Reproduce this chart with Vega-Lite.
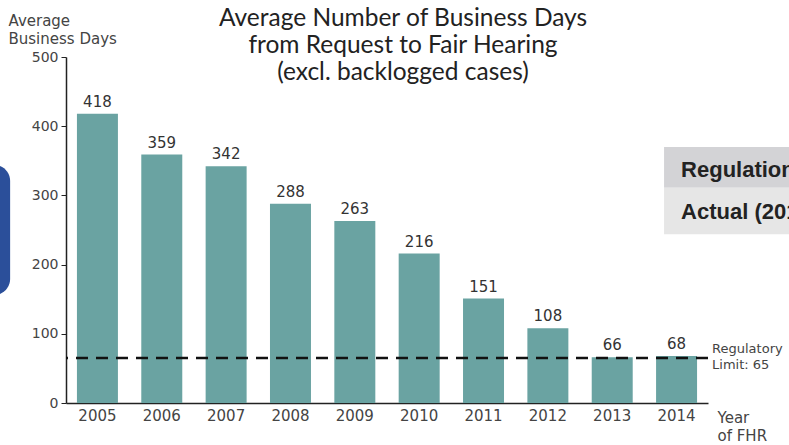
{
  "$schema": "https://vega.github.io/schema/vega-lite/v6.json",
  "autosize": "none",
  "width": 642,
  "height": 346,
  "padding": {"left": 66, "top": 57, "right": 81, "bottom": 42},
  "background": "white",
  "config": {"view": {"stroke": null}, "font": "DejaVu Sans"},
  "title": {
    "text": ["Average Number of Business Days", "from Request to Fair Hearing", "(excl. backlogged cases)"],
    "font": "Lato",
    "fontSize": 24.5,
    "fontWeight": "normal",
    "color": "#222",
    "lineHeight": 27,
    "anchor": "middle",
    "frame": "group",
    "dx": 16,
    "dy": 72,
    "baseline": "top",
    "offset": 0
  },
  "resolve": {"scale": {"y": "independent"}},
  "data": {
    "values": [
      {"year": "2005", "days": 418},
      {"year": "2006", "days": 359},
      {"year": "2007", "days": 342},
      {"year": "2008", "days": 288},
      {"year": "2009", "days": 263},
      {"year": "2010", "days": 216},
      {"year": "2011", "days": 151},
      {"year": "2012", "days": 108},
      {"year": "2013", "days": 66},
      {"year": "2014", "days": 68}
    ]
  },
  "layer": [
    {
      "mark": {"type": "bar", "color": "#6aa3a2"},
      "encoding": {
        "x": {
          "field": "year",
          "type": "ordinal",
          "scale": {"paddingInner": 0.363, "paddingOuter": 0.17},
          "axis": {
            "title": ["Year", "of FHR"],
            "titleFont": "DejaVu Sans",
            "titleFontSize": 15,
            "titleFontWeight": "normal",
            "titleColor": "#444",
            "titleAlign": "left",
            "titleAnchor": "start",
            "titleBaseline": "top",
            "titleX": 651,
            "titleY": 7,
            "titleLineHeight": 18,
            "labelAngle": 0,
            "labelFontSize": 15,
            "labelColor": "#444",
            "labelPadding": 5,
            "ticks": false,
            "domainColor": "#222",
            "domainWidth": 1.5
          }
        },
        "y": {
          "field": "days",
          "type": "quantitative",
          "scale": {"domain": [0, 500]},
          "axis": {
            "values": [0, 100, 200, 300, 400, 500],
            "grid": false,
            "title": ["Average", "Business Days"],
            "titleFont": "DejaVu Sans",
            "titleFontSize": 15,
            "titleFontWeight": "normal",
            "titleColor": "#444",
            "titleAngle": 0,
            "titleAlign": "left",
            "titleAnchor": "start",
            "titleBaseline": "alphabetic",
            "titleX": -58,
            "titleY": -32,
            "titleLineHeight": 18,
            "labelFontSize": 14,
            "labelColor": "#444",
            "labelPadding": 3,
            "tickSize": 5,
            "tickColor": "#222",
            "domainColor": "#222",
            "domainWidth": 1.5
          }
        }
      }
    },
    {
      "mark": {"type": "text", "dy": -7, "fontSize": 15, "color": "#333", "baseline": "alphabetic"},
      "encoding": {
        "x": {"field": "year", "type": "ordinal"},
        "y": {"field": "days", "type": "quantitative", "scale": {"domain": [0, 500]}, "axis": null},
        "text": {"field": "days", "type": "quantitative"}
      }
    },
    {
      "data": {"values": [{"limit": 65}]},
      "mark": {"type": "rule", "color": "#111", "strokeWidth": 2.5, "strokeDash": [12, 8]},
      "encoding": {"y": {"field": "limit", "type": "quantitative", "scale": {"domain": [0, 500]}, "axis": null}}
    },
    {
      "data": {"values": [{"limit": 65, "year": "2014", "label": ["Regulatory", "Limit: 65"]}]},
      "mark": {"type": "text", "align": "left", "baseline": "middle", "fontSize": 13, "lineHeight": 16, "color": "#444", "dx": 15, "dy": -9},
      "encoding": {
        "x": {"field": "year", "type": "ordinal", "bandPosition": 1},
        "y": {"field": "limit", "type": "quantitative", "scale": {"domain": [0, 500]}, "axis": null},
        "text": {"field": "label"}
      }
    },
    {
      "data": {"values": [{"year": "2014", "label": "Regulation"}]},
      "mark": {"type": "rect", "color": "#d3d3d6"},
      "encoding": {
        "x": {"field": "year", "type": "ordinal", "bandPosition": 0.195},
        "x2": {"field": "year", "bandPosition": 3.5},
        "y": {"datum": 370, "type": "quantitative", "scale": {"domain": [0, 500]}, "axis": null},
        "y2": {"datum": 311}
      }
    },
    {
      "data": {"values": [{"year": "2014", "label": "Actual (2014)"}]},
      "mark": {"type": "rect", "color": "#e6e6e6"},
      "encoding": {
        "x": {"field": "year", "type": "ordinal", "bandPosition": 0.195},
        "x2": {"field": "year", "bandPosition": 3.5},
        "y": {"datum": 311, "type": "quantitative", "scale": {"domain": [0, 500]}, "axis": null},
        "y2": {"datum": 244}
      }
    },
    {
      "data": {"values": [{"year": "2014", "label": "Regulation"}]},
      "mark": {"type": "text", "font": "Liberation Sans", "fontWeight": "bold", "fontSize": 22, "color": "#222", "align": "left", "baseline": "middle"},
      "encoding": {
        "x": {"field": "year", "type": "ordinal", "bandPosition": 0.61},
        "y": {"datum": 337, "type": "quantitative", "scale": {"domain": [0, 500]}, "axis": null},
        "text": {"field": "label"}
      }
    },
    {
      "data": {"values": [{"year": "2014", "label": "Actual (2014)"}]},
      "mark": {"type": "text", "font": "Liberation Sans", "fontWeight": "bold", "fontSize": 22, "color": "#222", "align": "left", "baseline": "middle"},
      "encoding": {
        "x": {"field": "year", "type": "ordinal", "bandPosition": 0.61},
        "y": {"datum": 276, "type": "quantitative", "scale": {"domain": [0, 500]}, "axis": null},
        "text": {"field": "label"}
      }
    },
    {
      "data": {"values": [{"year": "2005", "label": "panel"}]},
      "mark": {"type": "rect", "color": "#2b4f9a", "cornerRadius": 16},
      "encoding": {
        "x": {"field": "year", "type": "ordinal", "bandPosition": -2.5},
        "x2": {"field": "year", "bandPosition": -1.63},
        "y": {"datum": 344, "type": "quantitative", "scale": {"domain": [0, 500]}, "axis": null},
        "y2": {"datum": 156}
      }
    }
  ]
}
